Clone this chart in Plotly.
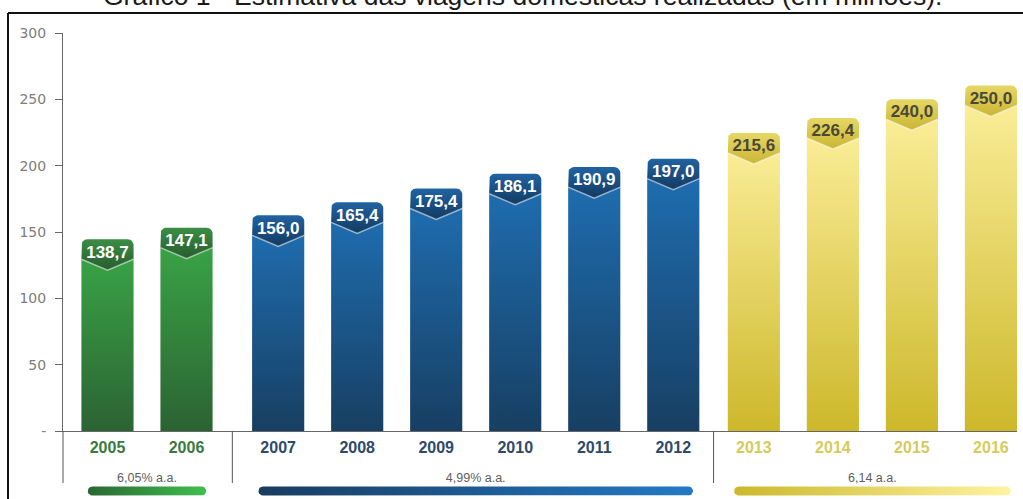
import numpy as np
import plotly.graph_objects as go

# ---------------- data ----------------
years = ['2005', '2006', '2007', '2008', '2009', '2010',
         '2011', '2012', '2013', '2014', '2015', '2016']
values = [138.7, 147.1, 156.0, 165.4, 175.4, 186.1,
          190.9, 197.0, 215.6, 226.4, 240.0, 250.0]
group_of_year = [0, 0, 1, 1, 1, 1, 1, 1, 2, 2, 2, 2]
group_labels = ['6,05% a.a.', '4,99% a.a.', '6,14 a.a.']
y_ticks = [0, 50, 100, 150, 200, 250, 300]
y_tick_text = ['-', '50', '100', '150', '200', '250', '300']
title_text = 'Gráfico 1 - Estimativa das viagens domésticas realizadas (em milhões).'

# ---------------- style ----------------
W, H = 1023, 499
ML, MR, MT, MB = 63, 6, 33, 0
PLOT_W = W - ML - MR
PAPER_H = H - MT - MB
AX_BOTTOM_PX = 431               # pixel row of y = 0
BOTTOM_BAND = H - AX_BOTTOM_PX    # px below the x axis (y2 in px units)
Y_DOMAIN0 = BOTTOM_BAND / PAPER_H
X_RANGE = [-0.563, 11.51]
PX_PER_X = PLOT_W / (X_RANGE[1] - X_RANGE[0])
PX_PER_Y = (AX_BOTTOM_PX - MT) / 300.0

group_offset = [0.0, 0.16, 0.18]
body_colors = [('#2b6333', '#3aa947'), ('#173f62', '#1f70b5'), ('#cdb82b', '#fcf09d')]
badge_colors = [('#275c2e', '#3a8e45'), ('#133a60', '#2163a3'), ('#cbb633', '#e6d766')]
label_colors = ['#ffffff', '#ffffff', '#4a4838']
year_colors = ['#3a7940', '#2d4a68', '#d6ca5c']
pill_colors = [('#2b6733', '#3fbf4e'), ('#193c5f', '#2379c6'), ('#ccb82c', '#fff3a0')]

BAR_W = 0.66
TOP_FACTOR = 1.042          # badge overhang above the value
CORNER_PX = 6
SIDE_DROP_PX = 20
V_DROP_PX = 31
LABEL_DROP_PX = 14
PILL_Y, PILL_HALF = 8, 4.5   # y2 units == px
RATE_Y = 20
SEP_Y1 = 16

pos = [i + group_offset[g] for i, g in enumerate(group_of_year)]

fig = go.Figure()


def arc(cx, cy, rx, ry, a0, a1, n=8):
    t = np.radians(np.linspace(a0, a1, n))
    return list(cx + rx * np.cos(t)), list(cy + ry * np.sin(t))


rx = CORNER_PX / PX_PER_X
ry = CORNER_PX / PX_PER_Y
side_drop = SIDE_DROP_PX / PX_PER_Y
v_drop = V_DROP_PX / PX_PER_Y
label_drop = LABEL_DROP_PX / PX_PER_Y

lab_x, lab_y, lab_t, lab_c = [], [], [], []
for p, v, g in zip(pos, values, group_of_year):
    xl, xr = p - BAR_W / 2, p + BAR_W / 2
    top = v * TOP_FACTOR
    # body
    fig.add_trace(go.Scatter(
        x=[xl, xr, xr, xl, xl], y=[0, 0, top - side_drop, top - side_drop, 0],
        mode='lines', fill='toself', line=dict(width=0),
        fillgradient=dict(type='vertical', start=0, stop=top,
                          colorscale=[[0, body_colors[g][0]], [1, body_colors[g][1]]]),
        hoverinfo='skip', showlegend=False))
    # badge
    ax1, ay1 = arc(xl + rx, top - ry, rx, ry, 180, 90)
    ax2, ay2 = arc(xr - rx, top - ry, rx, ry, 90, 0)
    bx = [xl] + ax1 + ax2 + [xr, p, xl]
    by = [top - side_drop] + ay1 + ay2 + [top - side_drop, top - v_drop, top - side_drop]
    fig.add_trace(go.Scatter(
        x=bx, y=by, mode='lines', fill='toself', line=dict(width=0),
        fillgradient=dict(type='vertical', start=top - v_drop, stop=top,
                          colorscale=[[0, badge_colors[g][0]], [1, badge_colors[g][1]]]),
        hoverinfo='skip', showlegend=False))
    # light edge under the chevron
    fig.add_trace(go.Scatter(
        x=[xl, p, xr], y=[top - side_drop, top - v_drop, top - side_drop],
        mode='lines', line=dict(width=1.5, color='rgba(255,255,255,0.55)'),
        hoverinfo='skip', showlegend=False))
    lab_x.append(p)
    lab_y.append(top - label_drop)
    lab_t.append(f'{v:.1f}'.replace('.', ','))
    lab_c.append(label_colors[g])

fig.add_trace(go.Scatter(
    x=lab_x, y=lab_y, text=lab_t, mode='text',
    textfont=dict(family='Liberation Sans, Arial', size=17, color=lab_c, weight='bold'),
    hoverinfo='skip', showlegend=False))

# group pills and rate labels (bottom band, y2 in pixel units)
rate_x = []
for g, lbl in enumerate(group_labels):
    members = [p for p, gg in zip(pos, group_of_year) if gg == g]
    xa, xb = members[0] - 0.25, members[-1] + 0.25
    rxp = PILL_HALF / PX_PER_X
    px1, py1 = arc(xa + rxp, PILL_Y, rxp, PILL_HALF, 90, 270, 10)
    px2, py2 = arc(xb - rxp, PILL_Y, rxp, PILL_HALF, -90, 90, 10)
    fig.add_trace(go.Scatter(
        x=px1 + px2 + [px1[0]], y=py1 + py2 + [py1[0]],
        mode='lines', fill='toself', line=dict(width=0),
        fillgradient=dict(type='horizontal', start=xa, stop=xb,
                          colorscale=[[0, pill_colors[g][0]], [1, pill_colors[g][1]]]),
        xaxis='x', yaxis='y2', hoverinfo='skip', showlegend=False))
    rate_x.append((members[0] + members[-1]) / 2)

fig.add_trace(go.Scatter(
    x=rate_x, y=[RATE_Y] * len(rate_x), text=group_labels, mode='text',
    textfont=dict(family='Liberation Sans, Arial', size=12.5, color='#5e5e5e'),
    xaxis='x', yaxis='y2', hoverinfo='skip', showlegend=False))

# separators between groups
shapes = []
shapes.append(dict(type='line', xref='paper', yref='y2', x0=0, x1=0,
                   y0=BOTTOM_BAND, y1=SEP_Y1, line=dict(color='#555', width=1)))
for g in range(1, len(group_labels)):
    prev_last = [p for p, gg in zip(pos, group_of_year) if gg == g - 1][-1]
    next_first = [p for p, gg in zip(pos, group_of_year) if gg == g][0]
    xs = (prev_last + next_first) / 2
    shapes.append(dict(type='line', xref='x', yref='y2', x0=xs, x1=xs,
                       y0=BOTTOM_BAND, y1=SEP_Y1, line=dict(color='#555', width=1)))

# outer frame (top and left black lines)
fx = (8 - ML) / PLOT_W
fy = (H - 13) / PAPER_H
shapes.append(dict(type='line', xref='paper', yref='paper', x0=fx, x1=1.02,
                   y0=fy, y1=fy, line=dict(color='#111', width=2)))
shapes.append(dict(type='line', xref='paper', yref='paper', x0=fx, x1=fx,
                   y0=fy, y1=-0.02, line=dict(color='#111', width=2)))

tick_text = [f"<span style='color:{year_colors[g]}'>{y}</span>"
             for y, g in zip(years, group_of_year)]

fig.update_layout(
    width=W, height=H,
    margin=dict(l=ML, r=MR, t=MT, b=MB, pad=0, autoexpand=False),
    paper_bgcolor='white', plot_bgcolor='white',
    showlegend=False,
    shapes=shapes,
    xaxis=dict(range=X_RANGE, tickvals=pos, ticktext=tick_text,
               showline=True, linecolor='#666', linewidth=1,
               ticks='', showgrid=False, zeroline=False, anchor='y',
               automargin=False,
               tickfont=dict(family='Liberation Sans, Arial', size=16, weight='bold'),
               ticklabelstandoff=2),
    yaxis=dict(domain=[Y_DOMAIN0, 1], range=[0, 300],
               tickvals=y_ticks, ticktext=y_tick_text,
               showline=True, linecolor='#666', linewidth=1,
               ticks='outside', ticklen=7, tickcolor='#666',
               showgrid=False, zeroline=False, automargin=False,
               tickfont=dict(family='DejaVu Sans', size=14, color='#7d7d7d'),
               ticklabelstandoff=6),
    yaxis2=dict(domain=[0, Y_DOMAIN0], range=[0, BOTTOM_BAND], visible=False,
                anchor='x', fixedrange=True, automargin=False),
    annotations=[dict(text=title_text, xref='paper', yref='paper',
                      x=(523 - ML) / PLOT_W, y=(H - 13) / PAPER_H,
                      xanchor='center', yanchor='bottom', showarrow=False,
                      font=dict(family='Liberation Sans, Arial', size=26.5, color='#1a1a1a'))],
)

fig.write_html('out.html')
